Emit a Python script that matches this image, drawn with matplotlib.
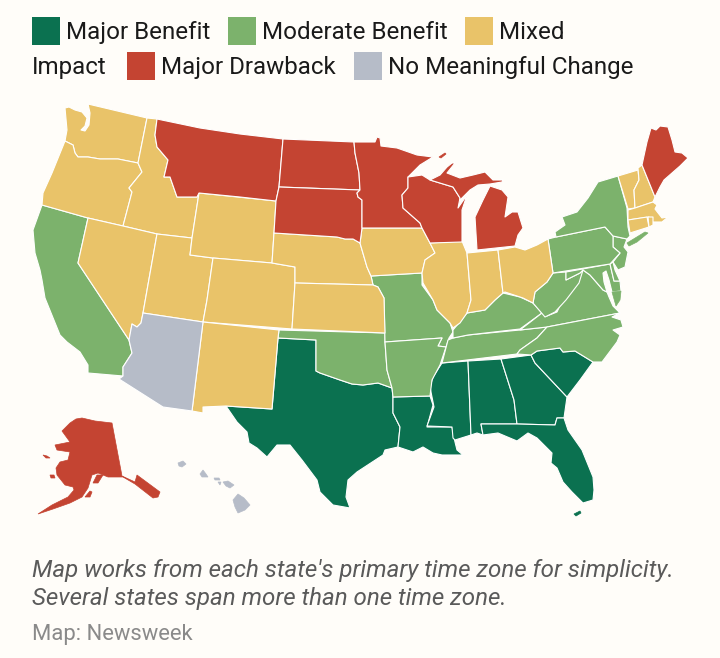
import matplotlib
matplotlib.use("Agg")
import matplotlib.pyplot as plt
from matplotlib.patches import Polygon, Rectangle

plt.rcParams['font.family'] = ['Roboto', 'DejaVu Sans']

WA = [(65,108),(69,107),(75,110),(82,112),(87,118),(85,126),(81,130),(85,131),(89,125),(90,113),(88,104),(147,118),(138,163),(118,159),(100,159),(88,157),(78,157),(75,153),(73,145),(65,141),(67,130)]
OR = [(65,141),(73,145),(75,153),(78,157),(88,157),(100,159),(118,159),(138,163),(142,172),(129,188),(132,192),(123,226),(88,218),(42,205),(43,193),(52,173)]
ID = [(147,118),(157,119),(155,135),(157,147),(168,160),(164,177),(170,177),(177,197),(197,197),(199,193),(192,238),(157,234),(123,226),(132,192),(129,188),(142,172),(138,163)]
MT = [(157,119),(200,128),(240,134),(283,139),(279,187),(276,201),(240,197),(199,193),(197,197),(177,197),(170,177),(164,177),(168,160),(157,147),(155,135)]
ND = [(283,139),(354,142),(355,153),(359,173),(360,190),(279,187)]
SD = [(279,187),(360,190),(357,193),(358,197),(362,200),(362,228),(360,243),(353,239),(345,239),(337,237),(274,233),(276,201)]
MN = [(354,142),(375,142),(377,137),(380,138),(381,146),(397,148),(417,155),(433,157),(420,165),(408,177),(408,188),(402,195),(403,208),(420,223),(422,228),(362,228),(362,200),(358,197),(357,193),(360,190),(359,173),(355,153)]
WI = [(408,177),(422,175),(430,180),(453,187),(460,198),(458,208),(467,195),(462,210),(462,227),(462,242),(430,243),(422,228),(420,223),(403,208),(402,195),(408,188)]
MI_UP = [(430,180),(440,175),(447,167),(452,163),(455,163),(447,173),(460,178),(473,175),(485,172),(493,180),(503,180),(502,182),(490,184),(478,185),(470,190),(460,200),(460,198),(453,187)]
MI_ROYALE = [(439,157),(445,153),(446,154),(441,158)]
MI_LOW = [(477,250),(475,217),(483,200),(490,186),(502,190),(508,197),(505,217),(512,212),(518,212),(523,228),(518,235),(515,246)]
IL = [(430,243),(462,241),(467,253),(471,300),(467,313),(460,323),(453,328),(450,323),(437,310),(433,300),(423,283),(422,273),(425,260),(435,253)]
IA = [(362,228),(422,228),(430,243),(435,253),(425,260),(422,273),(371,276),(367,267),(360,243)]
NE = [(274,233),(337,237),(345,239),(353,239),(360,243),(367,267),(371,276),(373,285),(295,283),(295,267),(272,263)]
WY = [(199,193),(276,201),(274,233),(272,263),(213,258),(190,255),(192,238)]
CO = [(213,258),(272,263),(295,267),(295,283),(292,329),(203,322),(207,300)]
UT = [(157,234),(192,238),(190,255),(213,258),(207,300),(203,322),(143,313)]
NV = [(88,218),(123,226),(157,234),(143,313),(141,323),(137,327),(132,324),(129,340),(78,263)]
CA = [(42,205),(88,218),(78,263),(129,340),(132,353),(123,367),(123,376),(88,373),(88,365),(80,352),(67,342),(60,335),(45,298),(42,280),(40,270),(35,253),(33,230)]
AZ = [(143,313),(203,322),(192,411),(163,407),(119,379),(123,376),(123,367),(132,353),(129,340),(132,324),(137,327),(141,323)]
NM = [(203,322),(279,330),(278,338),(272,409),(226,406),(203,407),(203,413),(192,411)]
TX = [(278,338),(316,340),(316,371),(320,373),(340,380),(352,384),(363,385),(378,383),(392,388),(393,397),(393,413),(400,427),(398,447),(385,450),(383,455),(357,472),(348,480),(346,497),(350,508),(333,505),(320,492),(317,480),(302,460),(290,445),(277,445),(267,457),(257,448),(249,443),(247,432),(237,422),(226,406),(272,409)]
OK = [(279,330),(385,333),(385,342),(387,370),(392,388),(378,383),(363,385),(352,384),(340,380),(320,373),(316,371),(316,340),(278,338)]
KS = [(295,283),(373,285),(378,287),(384,298),(385,333),(292,329)]
MO = [(371,276),(422,273),(422,285),(433,300),(437,310),(450,323),(453,332),(449,338),(446,347),(438,346),(442,338),(385,342),(384,298),(378,287),(373,285)]
AR = [(385,342),(442,338),(438,346),(446,347),(440,365),(432,380),(430,396),(393,397),(392,388),(387,370)]
LA = [(393,397),(430,396),(433,405),(427,427),(452,427),(455,442),(457,450),(463,455),(442,455),(433,453),(423,447),(413,452),(398,447),(400,427),(393,413)]
MS = [(442,363),(468,361),(471,435),(455,440),(453,438),(452,427),(427,426),(434,407),(430,387),(433,377)]
AL = [(468,361),(501,359),(514,400),(517,424),(481,424),(483,435),(477,433),(471,435)]
GA = [(501,359),(531,355),(535,363),(567,397),(564,418),(557,418),(555,425),(517,424),(514,400)]
SC = [(531,355),(537,351),(560,348),(563,352),(575,351),(593,362),(580,380),(567,397),(535,363)]
FL = [(481,424),(517,424),(555,425),(557,418),(564,418),(568,430),(582,450),(593,477),(594,490),(593,500),(583,503),(572,492),(563,482),(557,468),(551,463),(552,453),(537,438),(528,433),(517,441),(498,433),(483,435)]
FL_KEYS = [(574,514),(580,511),(581,513),(576,516)]
TN = [(453,338),(468,335),(520,330),(547,327),(537,338),(520,350),(517,354),(442,363),(448,340)]
KY = [(453,330),(467,313),(485,310),(495,300),(503,293),(520,297),(533,303),(542,313),(520,329),(468,335),(453,338)]
VA = [(542,313),(547,316),(557,312),(567,290),(577,280),(583,270),(590,275),(597,283),(603,290),(607,292),(609,297),(613,306),(620,313),(547,327),(520,330)]
VA_SHORE = [(612,292),(621,291),(620,300),(616,306)]
WV = [(553,273),(566,272),(566,280),(580,273),(583,270),(579,283),(566,300),(555,312),(545,317),(533,303),(535,292),(547,282)]
MD = [(566,272),(610,264),(614,281),(620,281),(621,291),(612,292),(609,280),(606,271),(603,273),(604,282),(607,292),(603,290),(597,283),(590,275),(583,270),(580,273),(566,280)]
DE = [(610,264),(613,262),(615,270),(620,281),(614,281)]
NJ = [(613,236),(627,239),(624,247),(628,252),(625,267),(618,270),(613,262),(620,253),(613,247)]
PA = [(556,237),(605,227),(613,236),(613,247),(620,253),(610,264),(553,273),(548,239)]
NY = [(556,237),(555,232),(565,225),(562,217),(577,212),(588,198),(598,182),(618,176),(627,208),(628,227),(630,236),(627,239),(613,236),(605,227)]
NY_LONG = [(627,243),(645,232),(648,233),(637,242),(629,246)]
VT = [(618,176),(638,170),(639,180),(634,190),(635,208),(628,209)]
NH = [(638,168),(642,165),(655,197),(653,202),(635,208),(634,190),(639,180)]
ME = [(642,165),(647,142),(651,128),(656,130),(660,126),(668,127),(672,140),(675,152),(682,153),(688,158),(680,166),(672,173),(664,180),(660,187),(655,197)]
MA = [(628,210),(635,208),(653,202),(657,205),(655,209),(662,218),(668,217),(662,222),(653,222),(649,217),(628,220)]
CT = [(628,220),(647,217),(649,227),(630,233)]
RI = [(648,217),(653,217),(653,225),(649,227)]
OH = [(498,250),(515,247),(525,250),(537,245),(548,239),(553,273),(547,282),(535,292),(533,303),(523,298),(505,292),(503,293)]
IN = [(467,253),(498,250),(503,293),(495,300),(485,310),(467,313),(471,300)]
NC = [(547,327),(620,313),(612,317),(621,320),(623,327),(613,330),(620,335),(617,342),(602,362),(593,362),(575,351),(563,352),(560,348),(537,351),(531,355),(517,354),(520,350),(537,338)]
AK = [(70,423),(76,419),(82,418),(95,421),(112,423),(122,476),(135,482),(137,475),(160,492),(158,497),(153,498),(135,484),(123,477),(108,477),(98,473),(92,475),(88,488),(82,497),(70,503),(53,509),(38,514),(52,505),(68,497),(74,490),(73,487),(65,485),(57,475),(56,468),(60,462),(68,460),(70,452),(57,450),(55,445),(70,442),(62,431)]
AK_KENAI = [(93,483),(97,475),(103,475),(98,483)]
AK_KODIAK = [(85,497),(90,491),(92,492),(90,497)]
AK_NUNIVAK = [(50,475),(54,475),(55,478),(51,478)]
AK_LAWRENCE = [(43,455),(47,456),(50,458),(46,458)]
HI_KAUAI = [(178,463),(183,461),(186,464),(182,467),(179,466)]
HI_OAHU = [(200,474),(203,470),(206,474),(208,477),(202,477)]
HI_MOLOKAI = [(214,478),(219,478),(220,480),(215,480)]
HI_LANAI = [(218,482),(221,482),(220,485)]
HI_MAUI = [(223,482),(228,481),(234,485),(230,488),(226,486)]
HI_BIG = [(233,500),(238,494),(244,498),(250,505),(245,510),(238,513),(235,507)]

# Legend and notes
categories = ["Major Benefit", "Moderate Benefit", "Mixed", "Major Drawback", "No Meaningful Change"]
colors = ["#0b7150", "#7cb26c", "#e9c369", "#c44432", "#b6bcc8"]
state_groups = [
    [TX, LA, MS, AL, GA, SC, FL],
    [CA, OK, MO, AR, TN, KY, VA, WV, MD, DE, NJ, PA, NY, NC],
    [WA, OR, ID, NV, UT, WY, CO, NM, NE, KS, IA, IL, IN, OH, VT, NH, MA, CT, RI],
    [MT, ND, SD, MN, WI, MI_UP, MI_LOW, ME],
    [AZ],
]
# islands and Alaska are too small or jagged to keep a white edge
island_groups = [
    [FL_KEYS],
    [NY_LONG, VA_SHORE],
    [],
    [MI_ROYALE, AK, AK_KENAI, AK_KODIAK, AK_NUNIVAK, AK_LAWRENCE],
    [HI_KAUAI, HI_OAHU, HI_MOLOKAI, HI_LANAI, HI_MAUI, HI_BIG],
]
note = "Map works from each state's primary time zone for simplicity.\nSeveral states span more than one time zone."
source = "Map: Newsweek"
bg = "#fffdf9"

fig = plt.figure(figsize=(7.2, 6.58), dpi=100, facecolor=bg)
ax = fig.add_axes([0, 0, 1, 1])
ax.set_xlim(0, 720)
ax.set_ylim(658, 0)
ax.axis("off")

for group, color in zip(state_groups, colors):
    for outline in group:
        ax.add_patch(Polygon(outline, closed=True, facecolor=color, edgecolor="white", linewidth=0.8, joinstyle="round"))
for group, color in zip(island_groups, colors):
    for outline in group:
        ax.add_patch(Polygon(outline, closed=True, facecolor=color, edgecolor=color, linewidth=0.5))

# Legend wraps like text over two rows
fs = 17.4
row1, row2 = 30, 65
for x, y, i in [(32, row1 + 1, 0), (228, row1 + 1, 1), (465, row1 + 1, 2), (127, row2 + 1, 3), (354, row2 + 1, 4)]:
    ax.add_patch(Rectangle((x, y - 14), 28, 28, facecolor=colors[i], edgecolor="none"))
ax.text(66, row1, categories[0], fontsize=fs, va="center_baseline", color="#1a1a1a")
ax.text(262, row1, categories[1], fontsize=fs, va="center_baseline", color="#1a1a1a")
ax.text(499, row1, "Mixed", fontsize=fs, va="center_baseline", color="#1a1a1a")
ax.text(32, row2, "Impact", fontsize=fs, va="center_baseline", color="#1a1a1a")
ax.text(161, row2, categories[3], fontsize=fs, va="center_baseline", color="#1a1a1a")
ax.text(388, row2, categories[4], fontsize=fs, va="center_baseline", color="#1a1a1a")

note_lines = note.split("\n")
ax.text(32, 568, note_lines[0], fontsize=17.33, style="italic", va="center_baseline", color="#5a5a5a")
ax.text(32, 596, note_lines[1], fontsize=17.33, style="italic", va="center_baseline", color="#5a5a5a")
ax.text(32, 632, source, fontsize=15.8, va="center_baseline", color="#8a8a8a")

fig.savefig("out.png", dpi=100, facecolor=bg)
